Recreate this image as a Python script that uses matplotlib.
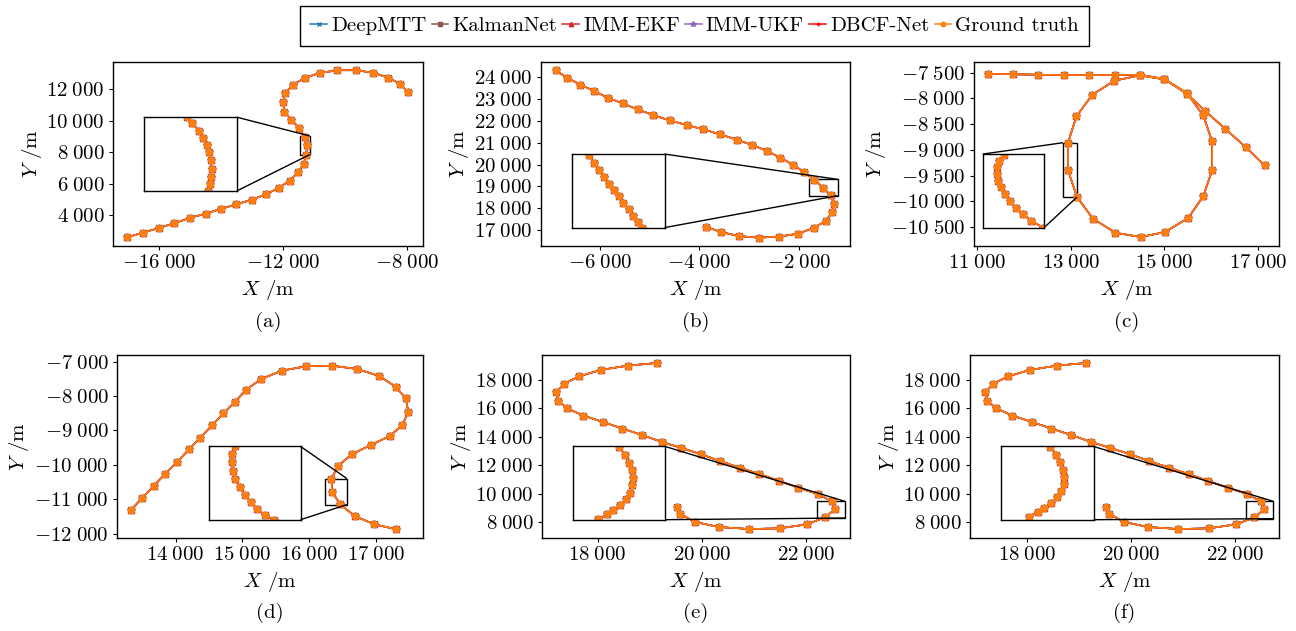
import numpy as np
import matplotlib
matplotlib.use('Agg')
import matplotlib.pyplot as plt
from matplotlib.ticker import FuncFormatter, FixedLocator
from mpl_toolkits.axes_grid1.inset_locator import mark_inset

plt.rcParams['font.family'] = 'cmr10'
plt.rcParams['mathtext.fontset'] = 'cm'
plt.rcParams['axes.unicode_minus'] = False
plt.rcParams['axes.formatter.use_mathtext'] = True

# Metodos comparados
metodos = ['DeepMTT', 'KalmanNet', 'IMM-EKF', 'IMM-UKF', 'DBCF-Net', 'Ground truth']
colores = ['#1f77b4', '#8c564b', '#d62728', '#9467bd', '#ff0000', '#ff7f0e']
marcadores = ['x', 's', '^', '*', '+', 'o']
tam_marc = [4.5, 4, 4.5, 5.5, 5, 4.5]

# ---------------- Trayectorias (m) ----------------
# (a)
a_x = [-17032, -16516, -16000, -15516, -15011, -14495, -14011, -13505, -13000, -12548, -12129,
       -11785, -11516, -11333, -11247, -11226, -11301, -11495, -11731, -11957, -12000, -11935,
       -11688, -11301, -10817, -10247, -9656, -9097, -8613, -8215, -7978]
a_y = [2603, 2899, 3196, 3492, 3831, 4106, 4402, 4698, 4995, 5333, 5757, 6201, 6730, 7259, 7831,
       8466, 8952, 9566, 10074, 10582, 11175, 11746, 12275, 12720, 13037, 13206, 13206, 13058,
       12741, 12339, 11810]
a_zx = [-11314, -11297, -11270, -11257, -11245, -11236, -11231, -11228, -11230, -11234, -11239]
a_zy = [9037, 8940, 8821, 8696, 8588, 8480, 8344, 8209, 8074, 7966, 7852]

# (b)
b_x = [-6893, -6664, -6396, -6128, -5846, -5544, -5242, -4933, -4597, -4255, -3919, -3584, -3242,
       -2933, -2631, -2369, -2114, -1893, -1685, -1503, -1356, -1282, -1322, -1456, -1698, -2013,
       -2403, -2805, -3208, -3564, -3872]
b_y = [24321, 23985, 23664, 23389, 23068, 22808, 22533, 22273, 22028, 21814, 21616, 21387, 21142,
       20897, 20622, 20317, 19996, 19659, 19308, 18941, 18590, 18208, 17810, 17413, 17092, 16832,
       16695, 16649, 16725, 16908, 17153]
b_zx = [-1687, -1651, -1620, -1589, -1558, -1531, -1500, -1471, -1438, -1409, -1380, -1356]
b_zy = [19313, 19227, 19159, 19090, 19022, 18960, 18896, 18827, 18759, 18690, 18629, 18574]

# (c)
c_x = [11235, 11762, 12302, 12851, 13399, 13940, 14473, 15000, 15477, 15826, 16018, 16018, 15826,
       15505, 15007, 14495, 13954, 13477, 13135, 12943, 12943, 13121, 13463, 13932, 14473, 15000,
       15477, 15868, 16295, 16730, 17135]
c_y = [-7519, -7532, -7539, -7545, -7545, -7545, -7539, -7623, -7895, -8330, -8835, -9399, -9904,
       -10326, -10598, -10695, -10611, -10339, -9917, -9399, -8861, -8349, -7928, -7656, -7552,
       -7630, -7908, -8245, -8589, -8945, -9302]
c_zx = [12939, 12913, 12903, 12903, 12910, 12923, 12942, 12967, 12996, 13032, 13073, 13130]
c_zy = [-8875, -8957, -9053, -9149, -9245, -9341, -9437, -9533, -9629, -9725, -9821, -9917]

# (d)
d_x = [13341, 13506, 13680, 13850, 14025, 14200, 14369, 14544, 14714, 14889, 15058, 15278, 15588,
       15947, 16342, 16716, 17045, 17290, 17440, 17480, 17390, 17200, 16916, 16636, 16431, 16331,
       16341, 16461, 16676, 16971, 17300]
d_y = [-11301, -10951, -10602, -10252, -9913, -9553, -9214, -8854, -8505, -8165, -7816, -7505,
       -7262, -7136, -7117, -7214, -7417, -7728, -8068, -8456, -8845, -9165, -9427, -9689, -10029,
       -10398, -10786, -11146, -11485, -11728, -11874]
d_zx = [16321, 16313, 16311, 16315, 16324, 16339, 16358, 16380, 16404, 16431, 16464]
d_zy = [-10398, -10477, -10563, -10649, -10735, -10821, -10900, -10976, -11045, -11107, -11155]

# (e) y (f)
e_x = [19137, 18575, 18058, 17649, 17361, 17208, 17246, 17412, 17725, 18096, 18473, 18843, 19227,
       19597, 19981, 20351, 20735, 21105, 21476, 21853, 22224, 22492, 22550, 22364, 22013, 21495,
       20901, 20326, 19872, 19578, 19521]
e_y = [19192, 19005, 18701, 18257, 17743, 17136, 16551, 16014, 15500, 15056, 14589, 14145, 13654,
       13234, 12790, 12299, 11832, 11388, 10921, 10430, 9986, 9472, 8911, 8350, 7860, 7579, 7533,
       7673, 8023, 8607, 9098]
e_zx = [22484, 22517, 22540, 22555, 22563, 22559, 22546, 22523, 22488, 22450, 22412, 22364]
e_zy = [9461, 9339, 9212, 9090, 8968, 8851, 8734, 8628, 8532, 8458, 8389, 8309]

# ticks
a_xt = [-16000, -12000, -8000]
a_yt = [4000, 6000, 8000, 10000, 12000]
b_xt = [-6000, -4000, -2000]
b_yt = [17000, 18000, 19000, 20000, 21000, 22000, 23000, 24000]
c_xt = [11000, 13000, 15000, 17000]
c_yt = [-10500, -10000, -9500, -9000, -8500, -8000, -7500]
d_xt = [14000, 15000, 16000, 17000]
d_yt = [-12000, -11000, -10000, -9000, -8000, -7000]
e_xt = [18000, 20000, 22000]
e_yt = [8000, 10000, 12000, 14000, 16000, 18000]


def fmt_miles(v, pos):
    s = '{:,.0f}'.format(abs(v)).replace(',', r'\;')
    if v < 0:
        s = '-' + s
    return '$' + s + '$'


FS = 15

# ejes, limites, zoom, posicion del inset, esquinas de conexion
paneles = [
    dict(x=a_x, y=a_y, zx=a_zx, zy=a_zy, xt=a_xt, yt=a_yt, pos=[0.0872, 0.6101, 0.2392, 0.2916],
         xlim=(-17484, -7484), ylim=(2050, 13730), zona=(-11462, -11140, 7852, 9037),
         ins=[0.1, 0.3, 0.3, 0.4], loc=(1, 4), letra='(a)'),
    dict(x=b_x, y=b_y, zx=b_zx, zy=b_zy, xt=b_xt, yt=b_yt, pos=[0.4174, 0.6101, 0.2384, 0.2916],
         xlim=(-7188, -966), ylim=(16266, 24703), zona=(-1792, -1215, 18574, 19323),
         ins=[0.1, 0.1, 0.3, 0.4], loc=(1, 4), letra='(b)'),
    dict(x=c_x, y=c_y, zx=c_zx, zy=c_zy, xt=c_xt, yt=c_yt, pos=[0.7515, 0.6101, 0.2353, 0.2916],
         xlim=(10936, 17441), ylim=(-10869, -7293), zona=(12836, 13135, -9917, -8861),
         ins=[0.03, 0.1, 0.2, 0.4], loc=(2, 4), letra='(c)'),
    dict(x=d_x, y=d_y, zx=d_zx, zy=d_zy, xt=d_xt, yt=d_yt, pos=[0.0903, 0.1474, 0.2361, 0.2900],
         xlim=(13126, 17699), ylim=(-12126, -6806), zona=(16227, 16561, -11155, -10398),
         ins=[0.3, 0.1, 0.3, 0.4], loc=(1, 4), letra='(d)'),
    dict(x=e_x, y=e_y, zx=e_zx, zy=e_zy, xt=e_xt, yt=e_yt, pos=[0.4182, 0.1474, 0.2377, 0.2900],
         xlim=(16933, 22843), ylim=(6902, 19752), zona=(22217, 22748, 8304, 9472),
         ins=[0.1, 0.1, 0.3, 0.4], loc=(1, 4), letra='(e)'),
    dict(x=e_x, y=e_y, zx=e_zx, zy=e_zy, xt=e_xt, yt=e_yt, pos=[0.7485, 0.1474, 0.2384, 0.2900],
         xlim=(16914, 22837), ylim=(6902, 19752), zona=(22204, 22728, 8257, 9472),
         ins=[0.1, 0.1, 0.3, 0.4], loc=(1, 4), letra='(f)'),
]

fig = plt.figure(figsize=(12.96, 6.31), dpi=100)

for i, p in enumerate(paneles):
    ax = fig.add_axes(p['pos'])
    for m, c, mk, ms in zip(metodos, colores, marcadores, tam_marc):
        ax.plot(p['x'], p['y'], color=c, marker=mk, markersize=ms, linewidth=1.1, label=m)
    ax.set_xlim(p['xlim'])
    ax.set_ylim(p['ylim'])
    ax.xaxis.set_major_locator(FixedLocator(p['xt']))
    ax.yaxis.set_major_locator(FixedLocator(p['yt']))
    ax.xaxis.set_major_formatter(FuncFormatter(fmt_miles))
    ax.yaxis.set_major_formatter(FuncFormatter(fmt_miles))
    ax.tick_params(axis='both', labelsize=FS, direction='out', length=3, width=0.8, pad=3,
                   top=False, right=False, colors='black')
    for s in ax.spines.values():
        s.set_linewidth(1.0)
    ax.set_xlabel('$X$ /m', fontsize=FS, labelpad=4)
    ax.set_ylabel('$Y$ /m', fontsize=FS, labelpad=2)

    # inset de zoom
    axins = ax.inset_axes(p['ins'])
    for m, c, mk, ms in zip(metodos, colores, marcadores, tam_marc):
        axins.plot(p['zx'], p['zy'], color=c, marker=mk, markersize=ms, linewidth=1.1)
    x0, x1, y0, y1 = p['zona']
    axins.set_xlim(x0, x1)
    axins.set_ylim(y0, y1)
    axins.set_xticks([])
    axins.set_yticks([])
    for s in axins.spines.values():
        s.set_linewidth(1.0)
    mark_inset(ax, axins, loc1=p['loc'][0], loc2=p['loc'][1], fc='none', ec='black', lw=1.0)

    fig.text(p['pos'][0] + p['pos'][2] / 2, 0.490 if i < 3 else 0.029, p['letra'],
             ha='center', va='center', fontsize=FS)

    if i == 0:
        handles, labels = ax.get_legend_handles_labels()

fig.legend(handles, labels, loc='center', bbox_to_anchor=(0.536, 0.959), ncol=6, fontsize=FS,
           fancybox=False, edgecolor='black', framealpha=1, handlelength=0.8, handletextpad=0.2,
           columnspacing=0.25, borderpad=0.5, markerscale=0.7)

plt.savefig('out.png', dpi=100)
